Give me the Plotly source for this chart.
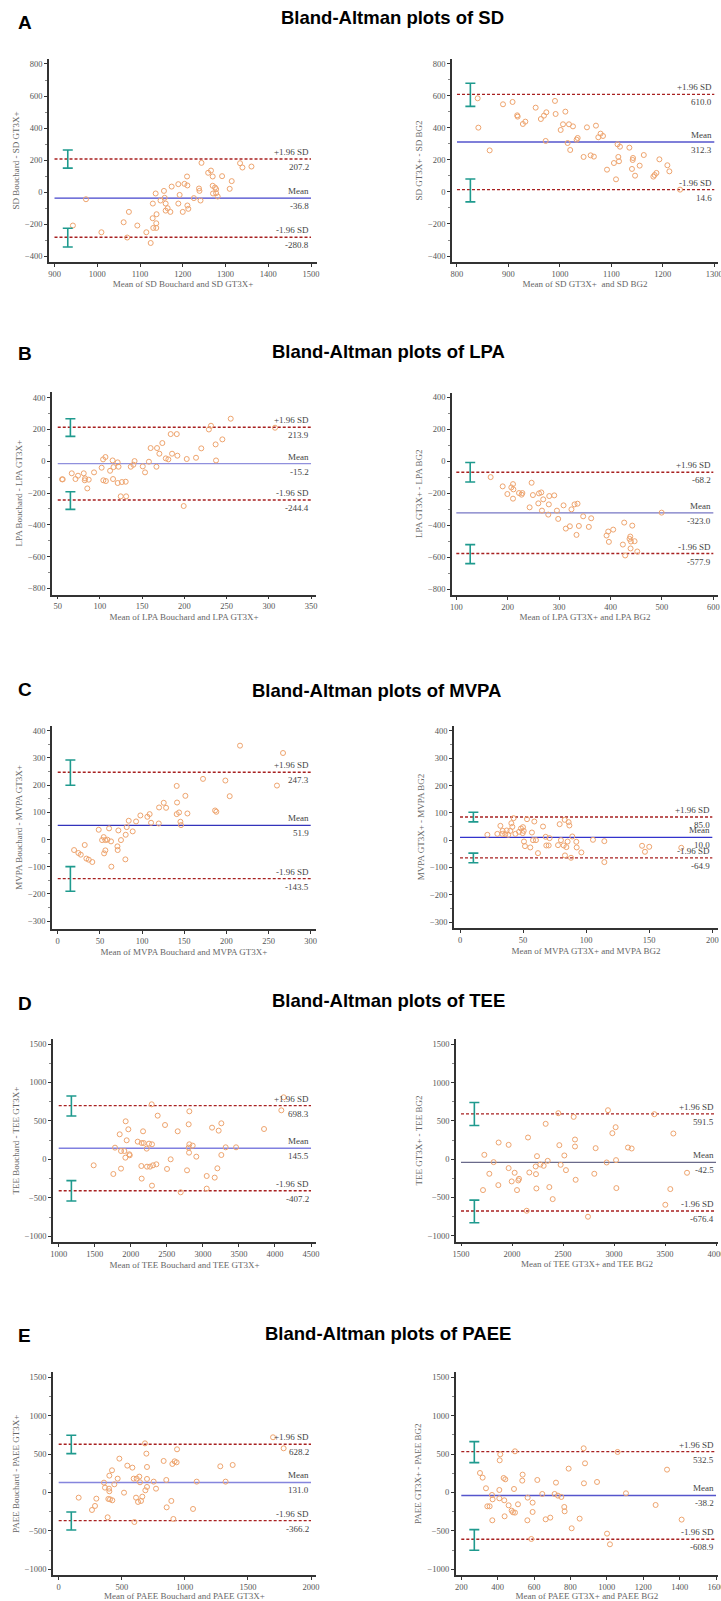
import plotly.graph_objects as go

# ------------------------------------------------------------------ data
# A: SD (Bouchard vs GT3X+)
sd_bg_mean = [943, 973.6, 1009.7, 1061.7, 1070, 1074, 1093.7, 1114.8, 1125, 1129.6, 1130, 1131, 1138, 1138,
              1138.7, 1136.6, 1148, 1156, 1157.7, 1160, 1160, 1164.6, 1171, 1174, 1189.6, 1189.6, 1192.7, 1200,
              1204, 1210, 1210.8, 1210.8, 1213, 1226, 1238, 1239, 1241.5, 1243.8, 1259.4, 1266, 1270, 1270,
              1270.8, 1275.5, 1278, 1278, 1281.7, 1292, 1309.8, 1314.5, 1334, 1339.6, 1360.7]
sd_bg_diff = [-208, -44, -250, -187.5, -283, -123, -208, -250, -317, -162.5, -71, -223, -223, -194,
              -137.5, -8, -52, 8, -35, -71, -115, -100, -123, 35, 50, -71, -17, -123,
              52, 98, 42, -83, -104, -37, 23, 8, -52, 183, 121, 135, 98, 40,
              -8, 29, 19, -6, -27, 100, 21, 69, 181, 154, 160]
sd_bg_limits = [207.2, -36.8, -280.8]
sd_bg_ci = [[150, 263], [-342, -225]]

# A: SD (GT3X+ vs BG2)
sd_gb_mean = [840.2, 841.5, 863.5, 889.4, 908, 917, 917.9, 928, 932.8, 952.9, 963, 969, 973.6, 972.3,
              990.4, 991.7, 1001.5, 1006, 1010.6, 1015, 1017.6, 1020, 1025.4, 1032.5, 1034.5, 1046, 1052.5,
              1059.7, 1066, 1070, 1074.6, 1079, 1083.7, 1091.5, 1105, 1109, 1112, 1113.5, 1114.8, 1116.7,
              1135, 1140, 1141.4, 1142, 1146, 1155, 1163, 1181.6, 1184, 1187.6, 1193.3, 1208.8, 1212.7, 1233.5]
sd_gb_diff = [585.4, 402, 260, 548, 562.5, 479, 471, 425, 439.6, 527, 456, 477, 498, 319,
              569, 487.5, 387.5, 423, 502, 306, 423, 262.5, 410, 327, 337.5, 219, 404,
              229, 221, 414.6, 342, 364.6, 350, 139.6, 181, 79, 298, 219, 192, 283,
              277, 144, 200, 212.5, 102, 164.6, 231, 96, 106, 119, 204, 167, 129, 14.6]
sd_gb_limits = [610.0, 312.3, 14.6]
sd_gb_ci = [[535, 679], [-62, 81]]

# B: LPA (Bouchard vs GT3X+)
lpa_bg_mean = [55.1, 55.9, 66.6, 71, 74, 80.8, 82.4, 82, 85, 86.7, 93, 102, 103.7, 104, 106.5, 107, 112,
               115, 116, 115.5, 121, 121, 122, 124.6, 126, 130.5, 131, 136.5, 139.6, 141, 150.7, 153.4,
               158, 160, 166.9, 167.6, 170.4, 173.9, 178, 181, 183.8, 185.4, 191, 191.7, 199.2, 202.8,
               213.8, 220, 229, 231.5, 237, 237.5, 245, 254.9, 307.4]
lpa_bg_diff = [-114, -114, -76, -112, -91, -76, -108, -120, -171, -116, -70, -40.7, 11.7, -120, 26.4, -124.7, -60,
               5, -37, -112, -7, -137, -34.6, -221, -131, -129, -221, -34.6, -22, 1, -32.4, -70,
               -3, 83, -34.6, 83, 47.4, 114.5, 18, 11.7, 171, 47.4, 171, 35, -282, 14,
               22, 81, 200, 223.6, 106, 5, 137.7, 267.8, 211]
lpa_bg_limits = [213.9, -15.2, -244.4]
lpa_bg_ci = [[156.6, 267.8], [-303, -191.8]]

# B: LPA (GT3X+ vs BG2)
lpa_gb_mean = [166.8, 190.2, 199.3, 207, 210.3, 211, 210.3, 222, 227, 228.5, 242.6, 246.5, 249, 259.5,
               260.8, 265.3, 266.6, 269, 278.9, 280, 280.8, 290.5, 295.7, 298.2, 308.6, 313, 320.9, 324,
               330, 333.8, 335.8, 338.4, 346.8, 357.8, 362.4, 392.3, 395.5, 396.8, 405.2, 424, 426.6,
               428.5, 437, 438.4, 439, 439.7, 442.3, 446.8, 452, 499.4]
lpa_gb_diff = [-99, -157, -205, -163.6, -143, -176, -234, -199, -209, -199, -288.5, -134.5, -211.5, -263.5,
               -201, -195, -309, -238.5, -334, -270, -217.7, -213.5, -309, -361, -276, -421.5, -407, -301,
               -270, -461, -265.6, -405, -344.6, -411, -357, -465, -440, -504.7, -428, -521.6, -384,
               -590, -486, -471.5, -546, -502.7, -402.8, -500.6, -565, -321.7]
lpa_gb_limits = [-68.2, -323.0, -577.9]
lpa_gb_ci = [[-130, -7.6], [-641, -522]]

# C: MVPA (Bouchard vs GT3X+)
mvpa_bg_mean = [19.4, 24.5, 27.3, 32, 34, 36.8, 41, 48.6, 52.6, 54.5, 55, 56.5, 56.5, 58.9, 60.9, 63.2,
                63.6, 70.8, 71.1, 71.9, 75, 80.6, 80.2, 81.8, 84.2, 88.9, 92.9, 98, 106.3, 109, 110.7,
                119.8, 120.2, 125.7, 128.5, 141.1, 141.5, 141.1, 143.9, 145.5, 146.2, 151.4, 153.8,
                172.3, 186.6, 188.1, 198.8, 203.95, 216.2, 260, 267.2]
mvpa_bg_diff = [-38.6, -49.5, -55.6, -20, -70, -74, -82.5, 36, -2, 9, -50.8, -39.8, -2, -0.7, 41, -6.8,
                -99.6, -25, -38.6, 33.5, -2, 17.6, -72.8, 45.7, 69, 30, 66.5, 88.5, 83.6, 93.4, 61.6,
                59, 117.8, 135, 116.6, 197, 136, 93.4, 99.5, 65.3, 53, 160.6, 95.8,
                222.9, 106.8, 102, 216.8, 159.3, 345, 198.4, 318]
mvpa_bg_limits = [247.3, 51.9, -143.5]
mvpa_bg_ci = [[199.7, 292.5], [-190, -99.6]]

# C: MVPA (GT3X+ vs BG2)
mvpa_gb_mean = [21.7, 29.6, 32, 33.6, 33.8, 35.9, 37, 38.3, 39.9, 40.7, 41.5, 42.5, 43.9, 46.8, 48.3,
                49.7, 49.9, 50.5, 50.7, 51.5, 53.1, 55.7, 57, 57.9, 58.9, 60.2, 61.8, 65.8, 67.9, 68.4,
                70.3, 71, 77.7, 79, 80, 82.2, 83, 83.2, 84.3, 85.3, 86.1, 86.7, 88, 89, 92.2, 92.5,
                96.2, 105.4, 114.4, 114.4, 144.3, 146.6, 150, 175.4]
mvpa_gb_diff = [19.5, 23, 52.4, 23, 34, 22, 35.4, 19.5, 34, 62, 48.8, 80.5, 23, 30.5, 42.7,
                25.6, 47.6, 34, -5, -22, 76.8, -26.8, 28, 0, 68.3, 0, -47.6, 50, 12.2, -19.5,
                -19.5, 7.3, -18.3, 58.5, 0, -19.5, 74.4, -56, -25.6, -5, 66, 53.7, -64.6, 13.4, -6, -26.8,
                -45, 1.2, -3.7, -80.5, -20.7, -42.7, -24.4, -28]
mvpa_gb_limits = [85.0, 10.0, -64.9]
mvpa_gb_ci = [[67, 102.4], [-83, -47.6]]

# D: TEE (Bouchard vs GT3X+)
tee_bg_mean = [1485, 1758, 1781, 1846, 1864.5, 1864.5, 1911, 1925, 1929, 1943, 1966, 1980, 1985, 2096,
               2146.5, 2151, 2151, 2170, 2179, 2220.5, 2225, 2253, 2267, 2290, 2294, 2294, 2308, 2354.6,
               2373, 2475, 2502.6, 2553, 2650.5, 2692, 2780, 2803, 2803, 2808, 2812, 2812, 2858.5, 2909,
               3053, 3053, 3127, 3164, 3201, 3219, 3256, 3256, 3316, 3460, 3848, 4088, 4120.6]
tee_bg_diff = [-77, -190, 152.5, 326, -120, 109, 109, 22.5, 495, 248, 391, 66, 53, 230.5,
               -86, 213, -250, 365, 213, 139.5, -94.5, 204.5, -94.5, 716, 196, -341, -77, -64,
               568.5, 447, -124.6, 0.9, 365, -428, -142, 455.8, 152.5, 87.5, 625, 196, 178.5, 35.5,
               -216, -380, 412.5, -237, -116, 373.5, 469, 57, 157, 157, 395, 637.8, 807]
tee_bg_limits = [698.3, 145.5, -407.2]
tee_bg_ci = [[564, 824], [-540.7, -276.5]]

# D: TEE (GT3X+ vs BG2)
tee_gb_mean = [1715.7, 1728.8, 1777.8, 1820, 1866, 1869, 1967, 1967, 1997, 2026, 2049, 2062, 2069, 2157,
               2144, 2170, 2232, 2235, 2239, 2245, 2278, 2310.5, 2330, 2350, 2366, 2399, 2454, 2464, 2477,
               2513, 2529, 2604.6, 2617.6, 2617.6, 2624, 2745, 2807, 2820, 2928, 2941, 2984, 3016, 3020,
               3023, 3137, 3173, 3395.4, 3503, 3552, 3582, 3716]
tee_gb_diff = [-404, 56.5, -191, -39, -339, 217, 187, -117, -291, -178, -404, -278, -256.5, 282.6,
               -674, -174, -95.6, -195.6, -382.6, 39, -69.6, -87, 461, -22, -365, -522, 600, 182.6, -74,
               48, -143.5, 552, 256.5, 165, -269.6, -752, -191, 143.5, -43.5, 639, 339, 417, -13,
               -378, 152, 139, 587, -595.6, -391, 334.8, -178]
tee_gb_limits = [591.5, -42.5, -676.4]
tee_gb_ci = [[439, 739], [-830.4, -535]]

# E: PAEE (Bouchard vs GT3X+)
paee_bg_mean = [158.5, 264, 288, 298.5, 359, 367, 388, 393.7, 401.6, 399, 401.6, 407, 422.7, 425, 441,
                467.6, 481, 518, 544, 584, 594.5, 600, 613, 618, 629, 639, 644.6, 652.6, 663, 684, 687,
                695, 700, 700, 700, 753, 771.5, 832, 853, 856, 893, 901, 919, 935, 938, 909, 1065, 1094,
                1281, 1323, 1379, 1699, 1783]
paee_bg_diff = [-67, -227.4, -175, -80, 128.5, 63.4, -323, -84, 219.6, 50, 16, -88.5, 289, -101.6, 106.7,
                180.6, 441, -2, 349.8, 324, 180.6, -384, -67, 180.6, -123, 206.6, 133, -110, -54, 640, 28.6,
                506, 332.5, 176.4, 72.5, 141.5, 50, 410.6, 163, -193, -110, 371.5, 406, 393, 562.5, -344.6,
                -214, 141.5, 341, 141.5, 358.5, 719, 575.5]
paee_bg_limits = [628.2, 131.0, -366.2]
paee_bg_ci = [[506, 745], [-488, -253.5]]

# E: PAEE (GT3X+ vs BG2)
paee_gb_mean = [302.6, 317.3, 335.6, 343, 355.8, 368.6, 372, 370.4, 409, 409, 411, 414, 432.7, 436, 441.9,
                438, 460, 476.7, 484, 489.6, 495, 495, 511.5, 535, 537, 564.7, 563, 592, 592, 584.8, 617.8,
                645, 663.6, 689, 713, 720.4, 731, 749.8, 766, 768, 790, 806.6, 850.5, 872.5, 874, 880, 946,
                1001, 1017, 1059, 1105, 1268, 1330.7, 1411]
paee_gb_diff = [254, 193.6, 55, -179.7, -179.7, -32, -88.5, -362, -75.5, 33, 419, 497.4, 189, -101.6, 171.9,
                -310, -166.7, -236, -258, 46, -262, 536.5, -153.6, 154.5, 232.6, -66.8, -362, -132, -253.5, -605,
                163.2, -19, -349, -327, -19, 128.5, -40.7, -58, -188.4, -244.8, 310.8, -466, -340, 575.5, 119.8,
                380, 137, -535.6, -674.5, 527.8, -10.4, -162.3, 297.8, -353]
paee_gb_limits = [532.5, -38.2, -608.9]
paee_gb_ci = [[389, 662.3], [-752.6, -483.5]]

# axis texts
x_titles = ["Mean of SD Bouchard and SD GT3X+", "Mean of SD GT3X+  and SD BG2",
            "Mean of LPA Bouchard and LPA GT3X+", "Mean of LPA GT3X+ and LPA BG2",
            "Mean of MVPA Bouchard and MVPA GT3X+", "Mean of MVPA GT3X+ and MVPA BG2",
            "Mean of TEE Bouchard and TEE GT3X+", "Mean of TEE GT3X+ and TEE BG2",
            "Mean of PAEE Bouchard and PAEE GT3X+", "Mean of PAEE GT3X+ and PAEE BG2"]
y_titles = ["SD Bouchard - SD GT3X+", "SD GT3X+ - SD BG2",
            "LPA Bouchard - LPA GT3X+", "LPA GT3X+ - LPA BG2",
            "MVPA Bouchard - MVPA GT3X+", "MVPA GT3X+ - MVPA BG2",
            "TEE Bouchard - TEE GT3X+", "TEE GT3X+ - TEE BG2",
            "PAEE Bouchard - PAEE GT3X+", "PAEE GT3X+ - PAEE BG2"]
row_titles = ["Bland-Altman plots of SD", "Bland-Altman plots of LPA", "Bland-Altman plots of MVPA",
              "Bland-Altman plots of TEE", "Bland-Altman plots of PAEE"]
row_letters = ["A", "B", "C", "D", "E"]

# ------------------------------------------------------------------ layout geometry (pixels)
W, H = 721, 1601
# px: axis x-extent, py: axis y-extent, xr/yr: axis ranges, xt: (first, last, step) ticks, ci_x: CI bar position
panels = [
    dict(mx=sd_bg_mean, dy=sd_bg_diff, lim=sd_bg_limits, ci=sd_bg_ci, ci_x=931,
         px=(49, 317), py=(59, 262), xr=(887.1, 1514), yr=(-435.6, 831), xt=(900, 1500, 100), yt=200,
         mean_col="#4444cc"),
    dict(mx=sd_gb_mean, dy=sd_gb_diff, lim=sd_gb_limits, ci=sd_gb_ci, ci_x=826,
         px=(452, 718), py=(59, 262), xr=(790.3, 1307.2), yr=(-437.5, 831), xt=(800, 1300, 100), yt=200,
         mean_col="#5555cc"),
    dict(mx=lpa_bg_mean, dy=lpa_bg_diff, lim=lpa_bg_limits, ci=lpa_bg_ci, ci_x=65,
         px=(52, 316), py=(392, 594.5), xr=(43.2, 355.9), yr=(-839, 435.9), xt=(50, 350, 50), yt=200,
         mean_col="#9090dd"),
    dict(mx=lpa_gb_mean, dy=lpa_gb_diff, lim=lpa_gb_limits, ci=lpa_gb_ci, ci_x=127,
         px=(452, 718), py=(392.5, 595), xr=(91.6, 609.1), yr=(-837.6, 431), xt=(100, 600, 100), yt=200,
         mean_col="#7777c4"),
    dict(mx=mvpa_bg_mean, dy=mvpa_bg_diff, lim=mvpa_bg_limits, ci=mvpa_bg_ci, ci_x=15,
         px=(52, 316), py=(725.7, 929.3), xr=(-6.8, 306.3), yr=(-329.8, 418.3), xt=(0, 300, 50), yt=100,
         mean_col="#3333bb"),
    dict(mx=mvpa_gb_mean, dy=mvpa_gb_diff, lim=mvpa_gb_limits, ci=mvpa_gb_ci, ci_x=10.6,
         px=(454, 718), py=(725.7, 928.3), xr=(-4.76, 204.5), yr=(-323.1, 419.4), xt=(0, 200, 50), yt=100,
         mean_col="#3333cc"),
    dict(mx=tee_bg_mean, dy=tee_bg_diff, lim=tee_bg_limits, ci=tee_bg_ci, ci_x=1176,
         px=(53, 316), py=(1039, 1242.3), xr=(921, 4569), yr=(-1078, 1565), xt=(1000, 4500, 500), yt=500,
         mean_col="#8080e0"),
    dict(mx=tee_gb_mean, dy=tee_gb_diff, lim=tee_gb_limits, ci=tee_gb_ci, ci_x=1631,
         px=(456, 718), py=(1039.3, 1241.7), xr=(1451, 4019.6), yr=(-1078, 1565), xt=(1500, 4000, 500), yt=500,
         mean_col="#6a6a8a"),
    dict(mx=paee_bg_mean, dy=paee_bg_diff, lim=paee_bg_limits, ci=paee_bg_ci, ci_x=100,
         px=(53, 316), py=(1372.3, 1575.3), xr=(-45, 2039.6), yr=(-1078, 1565), xt=(0, 2000, 500), yt=500,
         mean_col="#8585dd"),
    dict(mx=paee_gb_mean, dy=paee_gb_diff, lim=paee_gb_limits, ci=paee_gb_ci, ci_x=271.5,
         px=(455.7, 718), py=(1372.3, 1575.3), xr=(169.2, 1610.9), yr=(-1078, 1565), xt=(200, 1600, 200), yt=500,
         mean_col="#5555cc"),
]
title_pos = [(279, 18), (270, 351.5), (250, 690), (270, 1000), (263, 1333.5)]
letter_pos = [(15.7, 23), (15.7, 353.7), (15.7, 689), (15.7, 1003), (15.7, 1335)]

SERIF = "Liberation Serif"
AX_COL = "#333333"
PT_COL = "#eea46e"
LOA_COL = "#a82020"
CI_COL = "#1f9a8e"

fig = go.Figure()
layout = dict(width=W, height=H, margin=dict(l=0, r=0, t=0, b=0, autoexpand=False), showlegend=False,
              plot_bgcolor="white", paper_bgcolor="white", annotations=[])

for i, p in enumerate(panels):
    n = "" if i == 0 else str(i + 1)
    xa, ya = "x" + n, "y" + n
    x_lo, x_hi, x_step = p["xt"]
    upper, mean, lower = p["lim"]

    # limit-of-agreement lines and mean line
    for val, col, dashed in [(upper, LOA_COL, True), (lower, LOA_COL, True), (mean, p["mean_col"], False)]:
        fig.add_trace(go.Scatter(x=[x_lo, x_hi], y=[val, val], mode="lines", xaxis=xa, yaxis=ya,
                                 line=dict(color=col, width=1.4, dash="3px,2px" if dashed else "solid"),
                                 hoverinfo="skip"))
    # points
    fig.add_trace(go.Scatter(x=p["mx"], y=p["dy"], mode="markers", xaxis=xa, yaxis=ya,
                             marker=dict(symbol="circle-open", size=5, color=PT_COL, line=dict(width=1))))
    # CI error bars
    mids = [(c[0] + c[1]) / 2 for c in p["ci"]]
    half = [(c[1] - c[0]) / 2 for c in p["ci"]]
    fig.add_trace(go.Scatter(x=[p["ci_x"], p["ci_x"]], y=mids, mode="markers", xaxis=xa, yaxis=ya,
                             marker=dict(size=1, color="rgba(0,0,0,0)"),
                             error_y=dict(type="data", array=half, color=CI_COL, thickness=1.6, width=5)))

    x0, x1 = p["px"]
    y0, y1 = p["py"]
    tickfont = dict(family=SERIF, size=8.5, color="#555555")
    layout["xaxis" + n] = dict(domain=[x0 / W, x1 / W], range=list(p["xr"]), anchor=ya,
                               tickmode="linear", tick0=x_lo, dtick=x_step, ticklabeloverflow="allow",
                               showline=True, linecolor=AX_COL, linewidth=1.5, ticks="outside", ticklen=3,
                               tickcolor=AX_COL, tickwidth=1, showgrid=False, zeroline=False, tickfont=tickfont,
                               automargin=False,
                               title=dict(text=x_titles[i], font=dict(family=SERIF, size=9, color="#666666"),
                                          standoff=3))
    layout["yaxis" + n] = dict(domain=[1 - y1 / H, 1 - y0 / H], range=list(p["yr"]), anchor=xa,
                               tickmode="linear", tick0=0, dtick=p["yt"], ticklabeloverflow="allow",
                               showline=True, linecolor=AX_COL, linewidth=1.5, ticks="outside", ticklen=3,
                               tickcolor=AX_COL, tickwidth=1, showgrid=False, zeroline=False, tickfont=tickfont,
                               minor=dict(ticks="outside", ticklen=2, dtick=p["yt"] / 2, tickcolor="#888888"),
                               automargin=False,
                               title=dict(text=y_titles[i], font=dict(family=SERIF, size=9, color="#666666"),
                                          standoff=4))

    # line labels
    afont = dict(family=SERIF, size=9, color="#444444")
    for lab_top, val in [("+1.96 SD", upper), ("Mean", mean), ("-1.96 SD", lower)]:
        layout["annotations"].append(dict(x=x_hi, y=val, xref=xa, yref=ya, text=lab_top, showarrow=False,
                                          xanchor="right", yanchor="bottom", yshift=0, font=afont))
        layout["annotations"].append(dict(x=x_hi, y=val, xref=xa, yref=ya, text=f"{val:.1f}", showarrow=False,
                                          xanchor="right", yanchor="top", yshift=-1, font=afont))

for r in range(5):
    tx, ty = title_pos[r]
    layout["annotations"].append(dict(x=tx / W, y=1 - ty / H, xref="paper", yref="paper",
                                      text="<b>" + row_titles[r] + "</b>",
                                      showarrow=False, xanchor="left", yanchor="middle",
                                      font=dict(family="Liberation Sans", size=18.5, color="black")))
    lx, ly = letter_pos[r]
    layout["annotations"].append(dict(x=lx / W, y=1 - ly / H, xref="paper", yref="paper",
                                      text="<b>" + row_letters[r] + "</b>",
                                      showarrow=False, xanchor="left", yanchor="middle",
                                      font=dict(family="Liberation Sans", size=19, color="black")))

fig.update_layout(**layout)
fig.write_html("out.html", config={"displayModeBar": False},
               post_script=("document.documentElement.style.overflow='hidden';"
                            "document.body.style.margin='0';document.body.style.padding='0';"
                            "document.body.style.overflow='hidden';"))
